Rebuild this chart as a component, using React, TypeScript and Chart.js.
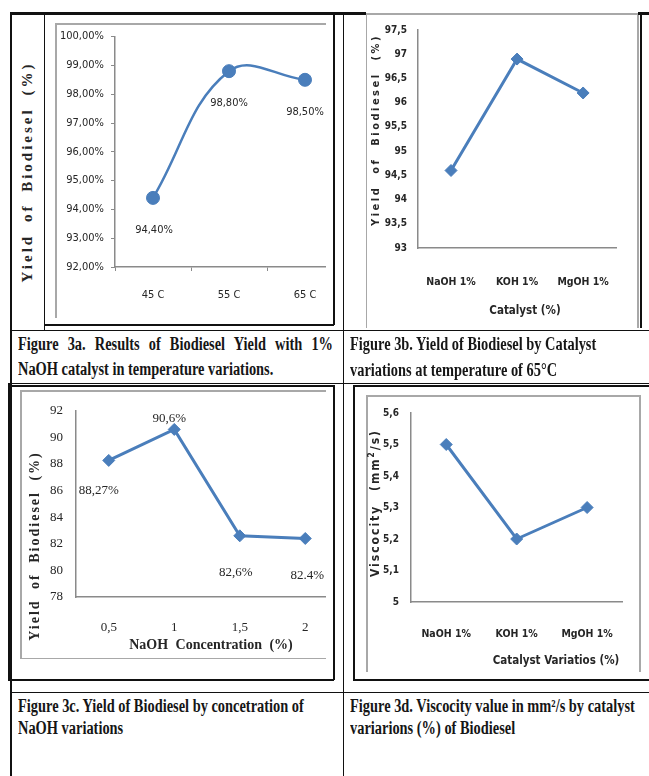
import React, { useEffect, useRef } from "react";
import { Chart, registerables } from "chart.js";

Chart.register(...registerables);

// ---------- data ----------
const tempCategories = ["45 C", "55 C", "65 C"];
const tempYield = [94.4, 98.8, 98.5];
const tempYieldLabels = ["94,40%", "98,80%", "98,50%"];

const catalystCategories = ["NaOH 1%", "KOH 1%", "MgOH 1%"];
const catalystYield = [94.6, 96.9, 96.2];

const naohCategories = ["0,5", "1", "1,5", "2"];
const naohYield = [88.27, 90.6, 82.6, 82.4];
const naohYieldLabels = ["88,27%", "90,6%", "82,6%", "82.4%"];

const viscCategories = ["NaOH 1%", "KOH 1%", "MgOH 1%"];
const viscosity = [5.5, 5.2, 5.3];

// ---------- style ----------
const SANS =
  '"Liberation Sans Narrow", "Arial Narrow", "DejaVu Sans Condensed", "Roboto Condensed", "Liberation Sans", sans-serif';
const SERIF = '"Liberation Serif", "Times New Roman", "DejaVu Serif", serif';
const BLUE = "#4A7EBB";
const AXIS = "#8a8a8a";
const GRAY = "#a8a8a8";
const TEXT = "#262626";

const comma = (v: number, d: number) => v.toFixed(d).replace(".", ",");

const pointLabelPlugin = {
  id: "pointLabels",
  afterDatasetsDraw(chart: any, _args: any, opts: any) {
    if (!opts || !opts.text) return;
    const meta = chart.getDatasetMeta(0);
    const ctx = chart.ctx;
    ctx.save();
    ctx.font = opts.fontSpec;
    ctx.fillStyle = opts.color;
    ctx.textAlign = "center";
    ctx.textBaseline = "middle";
    meta.data.forEach((el: any, i: number) => {
      const o = opts.offs[i];
      ctx.fillText(opts.text[i], el.x + o[0], el.y + o[1]);
    });
    ctx.restore();
  },
};

type Spec = {
  left: number;
  top: number;
  width: number;
  height: number;
  canvasWidth: number;
  padTop: number;
  padRight: number;
  yWidth: number;
  xHeight: number;
  categories: string[];
  values: number[];
  yMin: number;
  yMax: number;
  yStep: number;
  yFmt: (v: number) => string;
  yFont: any;
  xFont: any;
  yPad: number;
  xPad: number;
  tickMarks: boolean;
  pointStyle: string;
  radius: number;
  lineWidth: number;
  tension: number;
  labels?: string[];
  labelOffsets?: number[][];
  labelFont?: string;
};

function MiniChart({ spec }: { spec: Spec }) {
  const ref = useRef<HTMLCanvasElement>(null);
  useEffect(() => {
    const s = spec;
    const chart = new Chart(ref.current as HTMLCanvasElement, {
      type: "line",
      data: {
        labels: s.categories,
        datasets: [
          {
            data: s.values,
            borderColor: BLUE,
            backgroundColor: BLUE,
            borderWidth: s.lineWidth,
            pointStyle: s.pointStyle as any,
            pointRadius: s.radius,
            pointBackgroundColor: BLUE,
            pointBorderColor: BLUE,
            pointBorderWidth: 1,
            tension: s.tension,
            fill: false,
          },
        ],
      },
      options: {
        responsive: false,
        animation: false,
        events: [],
        layout: { padding: { top: s.padTop, right: s.padRight, left: 0, bottom: 0 } },
        plugins: {
          legend: { display: false },
          tooltip: { enabled: false },
          pointLabels: s.labels
            ? { text: s.labels, offs: s.labelOffsets, fontSpec: s.labelFont, color: TEXT }
            : {},
        } as any,
        scales: {
          x: {
            type: "category",
            offset: true,
            grid: {
              display: true,
              offset: true,
              drawOnChartArea: false,
              drawTicks: s.tickMarks,
              tickLength: 4,
              color: AXIS,
              lineWidth: 1,
            },
            border: { display: true, color: AXIS, width: 1.5 },
            ticks: {
              font: s.xFont,
              color: TEXT,
              padding: s.xPad,
              maxRotation: 0,
              autoSkip: false,
            },
            afterFit: (sc: any) => {
              sc.height = s.xHeight;
            },
          },
          y: {
            min: s.yMin,
            max: s.yMax,
            grid: {
              display: true,
              drawOnChartArea: false,
              drawTicks: s.tickMarks,
              tickLength: 4,
              color: AXIS,
              lineWidth: 1,
            },
            border: { display: true, color: AXIS, width: 1.5 },
            ticks: {
              stepSize: s.yStep,
              font: s.yFont,
              color: TEXT,
              padding: s.yPad,
              callback: (v: any) => s.yFmt(Number(v)),
            },
            afterFit: (sc: any) => {
              sc.width = s.yWidth;
            },
          },
        },
      },
      plugins: [pointLabelPlugin as any],
    });
    return () => chart.destroy();
  }, []);
  return (
    <div
      style={{
        position: "absolute",
        left: spec.left,
        top: spec.top,
        width: spec.width,
        height: spec.height,
        overflow: "hidden",
      }}
    >
      <canvas
        ref={ref}
        width={spec.canvasWidth}
        height={spec.height}
        style={{ position: "absolute", left: 0, top: 0, width: spec.canvasWidth, height: spec.height }}
      />
    </div>
  );
}

const chart1: Spec = {
  left: 55, top: 23, width: 271, height: 295, canvasWidth: 300,
  padTop: 13, padRight: 12, yWidth: 60, xHeight: 51,
  categories: tempCategories, values: tempYield,
  yMin: 92, yMax: 100, yStep: 1, yFmt: (v) => comma(v, 2) + "%",
  yFont: { family: SANS, size: 11 }, xFont: { family: SANS, size: 11 },
  yPad: 7, xPad: 18, tickMarks: true,
  pointStyle: "circle", radius: 6.5, lineWidth: 2.5, tension: 0.4,
  labels: tempYieldLabels, labelOffsets: [[1, 32], [0, 32], [0, 32]],
  labelFont: `11px ${SANS}`,
};

const chart2: Spec = {
  left: 366, top: 13, width: 272, height: 315, canvasWidth: 272,
  padTop: 17, padRight: 7, yWidth: 52, xHeight: 80,
  categories: catalystCategories, values: catalystYield,
  yMin: 93, yMax: 97.5, yStep: 0.5, yFmt: (v) => (Number.isInteger(v) ? String(v) : comma(v, 1)),
  yFont: { family: SANS, size: 10, weight: "bold" }, xFont: { family: SANS, size: 10.5, weight: "bold" },
  yPad: 11, xPad: 28, tickMarks: false,
  pointStyle: "rectRot", radius: 6, lineWidth: 3, tension: 0,
};

const chart3: Spec = {
  left: 20, top: 390, width: 306, height: 268, canvasWidth: 330,
  padTop: 13, padRight: 12, yWidth: 56, xHeight: 61,
  categories: naohCategories, values: naohYield,
  yMin: 78, yMax: 92, yStep: 2, yFmt: (v) => String(v),
  yFont: { family: SERIF, size: 13 }, xFont: { family: SERIF, size: 13 },
  yPad: 13, xPad: 23, tickMarks: false,
  pointStyle: "rectRot", radius: 6, lineWidth: 3, tension: 0,
  labels: naohYieldLabels, labelOffsets: [[-10, 30], [-5, -11], [-4, 37], [2, 37]],
  labelFont: `13px ${SERIF}`,
};

const chart4: Spec = {
  left: 366, top: 395, width: 274, height: 277, canvasWidth: 274,
  padTop: 10, padRight: 4, yWidth: 45, xHeight: 70,
  categories: viscCategories, values: viscosity,
  yMin: 5, yMax: 5.6, yStep: 0.1, yFmt: (v) => (Math.abs(v - 5) < 1e-9 ? "5" : comma(v, 1)),
  yFont: { family: SANS, size: 10, weight: "bold" }, xFont: { family: SANS, size: 10.5, weight: "bold" },
  yPad: 12, xPad: 26, tickMarks: false,
  pointStyle: "rectRot", radius: 6, lineWidth: 3, tension: 0,
};

function Ln({ x, y, w, h, c = "#111" }: { x: number; y: number; w: number; h: number; c?: string }) {
  return <div style={{ position: "absolute", left: x, top: y, width: w, height: h, background: c }} />;
}

function VTitle({ cx, cy, text, style }: { cx: number; cy: number; text: React.ReactNode; style: any }) {
  const W = 300;
  const H = 20;
  return (
    <div
      style={{
        position: "absolute",
        left: cx - W / 2,
        top: cy - H / 2,
        width: W,
        height: H,
        lineHeight: H + "px",
        textAlign: "center",
        whiteSpace: "nowrap",
        transform: "rotate(-90deg)",
        transformOrigin: "50% 50%",
        color: TEXT,
        ...style,
      }}
    >
      {text}
    </div>
  );
}

function HText({ cx, cy, text, style }: { cx: number; cy: number; text: string; style: any }) {
  const W = 300;
  return (
    <div
      style={{
        position: "absolute",
        left: cx - W / 2,
        top: cy - 10,
        width: W,
        height: 20,
        lineHeight: "20px",
        textAlign: "center",
        whiteSpace: "nowrap",
        color: TEXT,
        ...style,
      }}
    >
      {text}
    </div>
  );
}

const capBase: any = {
  position: "absolute",
  fontFamily: SERIF,
  fontWeight: "bold",
  fontSize: 18,
  lineHeight: "20px",
  height: 20,
  color: "#161616",
  whiteSpace: "nowrap",
  transform: "scaleX(0.8)",
  transformOrigin: "0 0",
};

function Cap({ x, y, text, justifyTo }: { x: number; y: number; text: React.ReactNode; justifyTo?: number }) {
  const st: any = { ...capBase, left: x, top: y };
  if (justifyTo) {
    st.width = (justifyTo - x) / 0.8;
    st.textAlign = "justify";
    st.textAlignLast = "justify";
    st.whiteSpace = "normal";
  }
  return <div style={st}>{text}</div>;
}

export default function App() {
  const serifTitle = { fontFamily: SERIF, fontWeight: "bold", fontSize: 15, letterSpacing: 3, wordSpacing: 5 };
  const sansTitle = { fontFamily: SANS, fontWeight: "bold", fontSize: 11.5 };
  return (
    <div style={{ position: "absolute", left: 0, top: 0, width: 649, height: 776, background: "#fff", overflow: "hidden" }}>
      {/* gray chart frames */}
      <Ln x={55} y={23} w={271} h={1.5} c={GRAY} />
      <Ln x={55} y={23} w={1.5} h={295} c={GRAY} />
      <Ln x={366} y={13} w={272} h={1.5} c={GRAY} />
      <Ln x={365.5} y={13} w={1.5} h={315} c={GRAY} />
      <Ln x={637} y={13} w={1.5} h={315} c={GRAY} />
      <Ln x={20} y={390} w={306} h={1.5} c={GRAY} />
      <Ln x={20} y={390} w={1.5} h={268} c={GRAY} />
      <Ln x={20} y={657.5} w={306} h={1.5} c={GRAY} />
      <Ln x={366} y={395} w={274} h={1.5} c={GRAY} />
      <Ln x={366} y={395} w={1.5} h={277} c={GRAY} />
      <Ln x={639} y={395} w={1.5} h={277} c={GRAY} />

      <MiniChart spec={chart1} />
      <MiniChart spec={chart2} />
      <MiniChart spec={chart3} />
      <MiniChart spec={chart4} />

      {/* black table / frame lines */}
      <Ln x={10} y={13} w={1.5} h={763} />
      <Ln x={10} y={12} w={356} h={3} />
      <Ln x={638} y={12} w={11} h={3} />
      <Ln x={43.5} y={13} w={1.5} h={317} />
      <Ln x={332.5} y={13} w={2} h={312} />
      <Ln x={44} y={323.5} w={290} h={2} />
      <Ln x={342.5} y={13} w={1.5} h={763} />
      <Ln x={639.5} y={13} w={2} h={315} />
      <Ln x={10} y={329.5} w={639} h={1.5} />
      <Ln x={8} y={382.5} w={641} h={1.5} />
      <Ln x={8} y={384.5} w={326} h={2} />
      <Ln x={332.5} y={385} w={2} h={295} />
      <Ln x={8} y={678.5} w={326} h={2} />
      <Ln x={8} y={383} w={2} h={297} />
      <Ln x={353} y={384.5} w={296} h={2} />
      <Ln x={352.5} y={385} w={2} h={295} />
      <Ln x={353} y={678.5} w={296} h={2} />
      <Ln x={10} y={691.5} w={639} h={1.5} />

      {/* axis titles */}
      <VTitle cx={27} cy={172} text="Yield of Biodiesel (%)" style={serifTitle} />
      <VTitle cx={376} cy={130} text="Yield of Biodiesel (%)" style={{ ...sansTitle, fontSize: 11, letterSpacing: 2.5, wordSpacing: 6 }} />
      <HText cx={525} cy={310} text="Catalyst (%)" style={sansTitle} />
      <VTitle cx={35} cy={546} text="Yield of Biodiesel (%)" style={{ ...serifTitle, fontSize: 14, letterSpacing: 2, wordSpacing: 5 }} />
      <HText cx={211} cy={645} text="NaOH Concentration (%)" style={{ fontFamily: SERIF, fontWeight: "bold", fontSize: 14, wordSpacing: 4 }} />
      <VTitle
        cx={375}
        cy={503}
        text={<span>Viscocity (mm<sup style={{ fontSize: "70%", lineHeight: 0 }}>2</sup>/s)</span>}
        style={{ ...sansTitle, fontSize: 12, letterSpacing: 2, wordSpacing: 8 }}
      />
      <HText cx={556} cy={660} text="Catalyst Variatios (%)" style={sansTitle} />

      {/* captions */}
      <Cap x={18} y={334} text="Figure 3a. Results of Biodiesel Yield with 1%" justifyTo={333} />
      <Cap x={18} y={359} text="NaOH catalyst in temperature variations." />
      <Cap x={350} y={334} text="Figure 3b. Yield of Biodiesel by Catalyst" />
      <Cap x={350} y={360} text="variations at temperature of 65°C" />
      <Cap x={18} y={696} text="Figure 3c. Yield of Biodiesel by concetration of" />
      <Cap x={18} y={718} text="NaOH variations" />
      <Cap x={350} y={696} text="Figure 3d. Viscocity value in mm²/s by catalyst" />
      <Cap x={350} y={718} text="variarions (%) of Biodiesel" />
    </div>
  );
}
